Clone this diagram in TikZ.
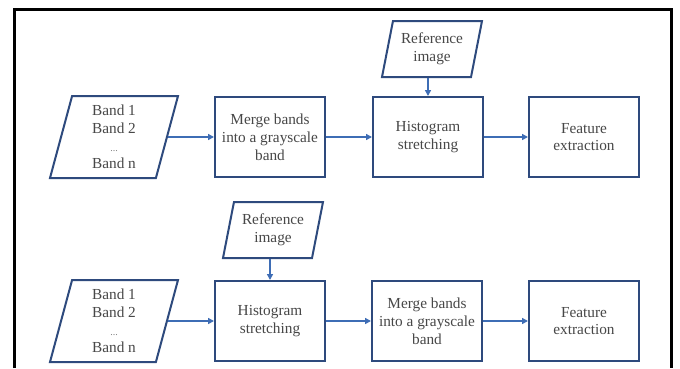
\documentclass[tikz,border=0pt]{standalone}
\usepackage{fontspec}
\setmainfont{Liberation Serif}
\usetikzlibrary{shapes.geometric,arrows.meta}
\definecolor{boxc}{HTML}{2E4A7D}
\definecolor{arrc}{HTML}{3E6DB5}
\definecolor{txtc}{HTML}{474747}
\tikzset{
  txt/.style={align=center,text=txtc,font=\fontsize{15.3}{17.8}\selectfont},
  procbox/.style={txt,draw=boxc,line width=2pt,minimum width=110pt,minimum height=80pt,inner sep=0pt},
  para/.style={txt,draw=boxc,line width=2pt,trapezium,trapezium left angle=71,trapezium right angle=109,trapezium stretches body=true,inner sep=0pt},
  bandpara/.style={para,minimum width=128pt,minimum height=82pt},
  refpara/.style={para,minimum width=100pt,minimum height=56pt},
  flow/.style={draw=arrc,line width=1.6pt,-{Triangle[length=6pt,width=6pt]}},
  frameline/.style={line width=3pt,black}
}
\newcommand{\bandlines}{Band 1\\Band 2\\{\fontsize{10}{11}\selectfont\color{gray}...}\\Band n}
\begin{document}
\begin{tikzpicture}[x=1pt,y=-1pt]
\useasboundingbox (0,0) rectangle (680,368);
\fill[white] (0,0) rectangle (680,368);
\draw[frameline] (14,368) -- (14,9.5) -- (671,9.5) -- (671,368);
% top row
\node[refpara] (refA) at (432,49) {Reference\\image};
\node[bandpara] (bandA) at (114,137) {\bandlines};
\node[procbox] (mergeA) at (270,137) {Merge bands\\into a grayscale\\band};
\node[procbox] (histA) at (428,137) {Histogram\\stretching};
\node[procbox] (featA) at (584,137) {Feature\\extraction};
\draw[flow] (bandA.east) -- (mergeA.west);
\draw[flow] (mergeA.east) -- (histA.west);
\draw[flow] (histA.east) -- (featA.west);
\draw[flow] (refA.south -| histA.north) -- (histA.north);
% bottom row
\node[refpara] (refB) at (273,230) {Reference\\image};
\node[bandpara] (bandB) at (114,321) {\bandlines};
\node[procbox] (histB) at (270,321) {Histogram\\stretching};
\node[procbox] (mergeB) at (427,321) {Merge bands\\into a grayscale\\band};
\node[procbox] (featB) at (584,321) {Feature\\extraction};
\draw[flow] (bandB.east) -- (histB.west);
\draw[flow] (histB.east) -- (mergeB.west);
\draw[flow] (mergeB.east) -- (featB.west);
\draw[flow] (refB.south -| histB.north) -- (histB.north);
\end{tikzpicture}
\end{document}
